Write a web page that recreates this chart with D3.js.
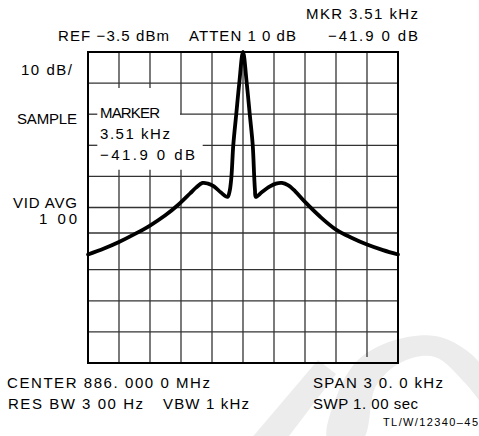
<!DOCTYPE html>
<html>
<head>
<meta charset="utf-8">
<script src="https://cdn.jsdelivr.net/npm/d3@7/dist/d3.min.js"></script>
<style>
  html, body { margin: 0; padding: 0; background: #fff; }
  svg text { font-family: "Liberation Sans", Arial, Helvetica, sans-serif; fill: #000; }
</style>
</head>
<body>
<svg id="chart" width="479" height="436"></svg>
<script>
// ---- data ----
const freqKhz = [-15, -13.45, -12.0, -10.45, -9.0, -7.55, -6.29, -5.13, -4.55, -3.92,
                 -3.39, -2.81, -2.13, -1.50, -1.31, -1.13, -0.94, -0.65, -0.36, 0,
                 0.36, 0.65, 0.94, 1.09, 1.16, 1.24, 1.84, 2.61, 3.19, 3.77,
                 4.35, 5.03, 6.0, 7.45, 9.0, 10.55, 12.0, 13.55, 15];
const levelDb = [-68.6, -66.7, -64.6, -62.0, -59.3, -56.1, -52.7, -49.0, -47.1, -45.6,
                 -45.8, -46.7, -48.7, -50.1, -48.5, -44.0, -33.4, -23.4, -13.5, -3.5,
                 -13.5, -23.4, -33.4, -44.0, -47.9, -50.1, -48.5, -46.7, -45.8, -45.6,
                 -46.3, -48.2, -51.7, -56.4, -60.6, -63.3, -65.4, -67.2, -68.6];
const gridKhz = [-12, -9, -6, -3, 0, 3, 6, 9, 12];
const gridDb = [-13.5, -23.5, -33.5, -43.5, -53.5, -61.7, -73.5, -83.5, -93.5];
const refDb = -3.5, bottomDb = -103.5, spanKhz = [-15, 15];
const headerTexts = ["MKR 3.51 kHz", "REF \u22123.5 dBm", "ATTEN 1 0 dB", "\u221241.9 0 dB"];
const sideTexts = ["10 dB/", "SAMPLE", "VID AVG", "1 00"];
const markerTexts = ["MARKER", "3.51 kHz", "\u221241.9 0 dB"];
const footerTexts = ["CENTER 886. 000 0 MHz", "RES BW 3 00 Hz", "VBW 1 kHz", "SPAN 3 0. 0 kHz", "SWP 1. 00 sec", "TL/W/12340\u201345"];

// ---- layout ----
const svg = d3.select("#chart");
const L = 88, R = 398, T = 52, B = 363;
const x = d3.scaleLinear().domain(spanKhz).range([L, R]);
const y = d3.scaleLinear().domain([refDb, bottomDb]).range([T, B]);

// watermark (decorative, very light)
const wm = svg.append("g").attr("fill", "#ececec");
const ring = d3.line().curve(d3.curveCatmullRomClosed);
wm.append("path").attr("d", ring([[328,440],[337,395],[358,360],[392,341],[435,336],[466,350],[485,372],[485,405],[466,384],[435,357],[402,362],[376,386],[362,440]]));
wm.append("path").attr("d", d3.line()([[250,440],[286,440],[336,374],[318,360]]) + "Z");

// grid (with the gaps of the original around the marker readout)
const g = svg.append("g").attr("stroke", "#333").attr("stroke-width", 1.3).attr("fill", "none");
const hSeg = {
  "-23.5": [[-15, -14.1], [-6.1, 15]],
  "-33.5": [[-15, -14.1], [-3.9, 15]]
};
gridDb.forEach(d => {
  const segs = hSeg[String(d)] || [[-15, 15]];
  segs.forEach(s => g.append("line").attr("x1", x(s[0])).attr("x2", x(s[1])).attr("y1", y(d)).attr("y2", y(d)));
});
const vSeg = {
  "-12": [[refDb, -15.1], [-41.4, bottomDb]],
  "-9": [[refDb, -15.1], [-41.4, bottomDb]],
  "-6": [[refDb, -23.5], [-41.4, bottomDb]],
  "12": [[refDb, -101.6]]
};
gridKhz.forEach(k => {
  const segs = vSeg[String(k)] || [[refDb, bottomDb]];
  segs.forEach(s => g.append("line").attr("x1", x(k)).attr("x2", x(k)).attr("y1", y(s[0])).attr("y2", y(s[1])));
});
svg.append("rect").attr("x", L).attr("y", T).attr("width", R - L).attr("height", B - T)
  .attr("fill", "none").attr("stroke", "#000").attr("stroke-width", 2);

// trace
const line = d3.line().x((d, i) => x(freqKhz[i])).y(d => y(d)).curve(d3.curveCatmullRom.alpha(0.5));
svg.append("path").attr("d", line(levelDb)).attr("fill", "none").attr("stroke", "#000")
  .attr("stroke-width", 3.8).attr("stroke-linejoin", "round").attr("stroke-linecap", "round");

// texts
function txt(s, xp, yp, len, size, anchor) {
  const t = svg.append("text").attr("x", xp).attr("y", yp).attr("font-size", size || 15).text(s);
  if (len) t.attr("textLength", len).attr("lengthAdjust", "spacing");
  if (anchor) t.attr("text-anchor", anchor);
  return t;
}
txt(headerTexts[0], 306, 19, 112);
txt(headerTexts[1], 58, 41, 111);
txt(headerTexts[2], 189, 41, 107);
txt(headerTexts[3], 328, 41, 90);

txt(sideTexts[0], 21, 75, 51);
txt(sideTexts[1], 17, 124, 60);
txt(sideTexts[2], 13, 208, 64);
txt(sideTexts[3], 39, 224, 38);

txt(markerTexts[0], 100, 118, 60);
txt(markerTexts[1], 100, 139, 70);
txt(markerTexts[2], 100, 160, 95);

txt(footerTexts[0], 7, 388, 203);
txt(footerTexts[1], 8, 409, 135);
txt(footerTexts[2], 163, 409, 86);
txt(footerTexts[3], 313, 388, 130);
txt(footerTexts[4], 313, 409, 105);
txt(footerTexts[5], 383, 426, 95, 11);
</script>
</body>
</html>
